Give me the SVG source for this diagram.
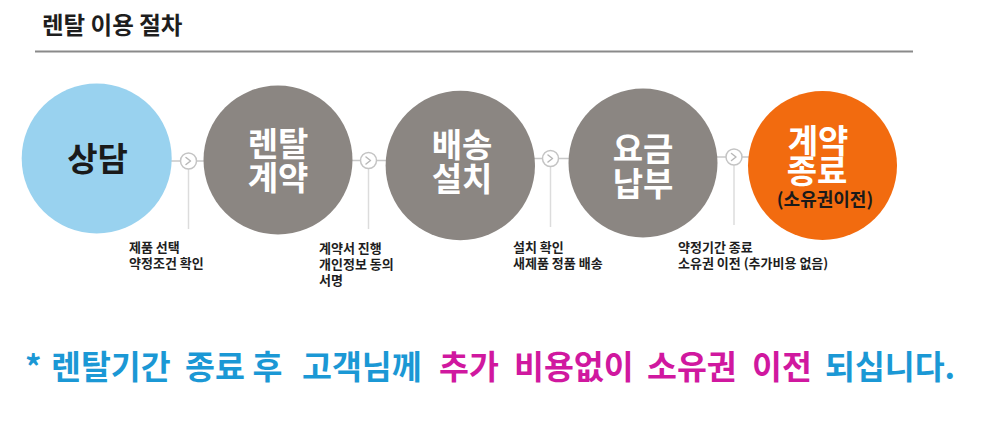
<svg xmlns="http://www.w3.org/2000/svg" width="1000" height="437" viewBox="0 0 1000 437">
  <style>
    text { font-family: 'Noto Sans CJK KR', 'Noto Sans', sans-serif; font-weight: bold; }
    .title { font-size: 23.5px; fill: #1e1e1e; }
    .big { font-size: 33px; text-anchor: middle; }
    .white { fill: #ffffff; }
    .dark { fill: #1a1a1a; }
    .note { font-size: 13px; fill: #1e1e1e; }
    .msg { font-size: 32.5px; }
    .blue { fill: #1b98d5; }
    .pink { fill: #d0189f; }
    .hline { stroke: #c8c8c8; stroke-width: 1.5; fill: none; }
    .vline { stroke: #dcdcdc; stroke-width: 1.5; fill: none; }
    .dot { stroke: #c4c4c4; stroke-width: 1.5; fill: #ffffff; }
    .chev { stroke: #b8b8b8; stroke-width: 1.5; fill: none; stroke-linecap: round; stroke-linejoin: round; }
  </style>

  <g id="header">
    <text class="title" x="42" y="33.5">렌탈 이용 절차</text>
    <line x1="35" y1="51.5" x2="913" y2="51.5" stroke="#8a8a8a" stroke-width="2"/>
  </g>

  <g id="connectors">
    <line class="hline" x1="171" y1="161" x2="204" y2="161"/>
    <line class="vline" x1="188.5" y1="169" x2="188.5" y2="229"/>
    <circle class="dot" cx="188.5" cy="161" r="8"/>
    <polyline class="chev" points="186,157.5 190.5,161 186,164.5"/>

    <line class="hline" x1="352" y1="160.5" x2="386" y2="160.5"/>
    <line class="vline" x1="368.5" y1="168.5" x2="368.5" y2="229"/>
    <circle class="dot" cx="368.5" cy="160.5" r="8"/>
    <polyline class="chev" points="366,157 370.5,160.5 366,164"/>

    <line class="hline" x1="534" y1="158.5" x2="570" y2="158.5"/>
    <line class="vline" x1="550.5" y1="166.5" x2="550.5" y2="227"/>
    <circle class="dot" cx="550.5" cy="158.5" r="8"/>
    <polyline class="chev" points="548,155 552.5,158.5 548,162"/>

    <line class="hline" x1="716" y1="157" x2="749" y2="157"/>
    <line class="vline" x1="734" y1="165" x2="734" y2="225"/>
    <circle class="dot" cx="734" cy="157" r="8"/>
    <polyline class="chev" points="731.5,153.5 736,157 731.5,160.5"/>
  </g>

  <g id="step1">
    <circle cx="96.7" cy="158.5" r="75" fill="#99d2ef"/>
    <text class="big dark" x="97.5" y="171">상담</text>
    <text class="note"><tspan x="129" y="252">제품 선택</tspan><tspan x="129" y="268">약정조건 확인</tspan></text>
  </g>

  <g id="step2">
    <circle cx="278" cy="160" r="74.5" fill="#8b8682"/>
    <text class="big white"><tspan x="278" y="156">렌탈</tspan><tspan x="278" y="189.5">계약</tspan></text>
    <text class="note"><tspan x="319" y="253">계약서 진행</tspan><tspan x="319" y="269">개인정보 동의</tspan><tspan x="319" y="285">서명</tspan></text>
  </g>

  <g id="step3">
    <circle cx="460.3" cy="165.5" r="74.7" fill="#8b8682"/>
    <text class="big white"><tspan x="462" y="156.5">배송</tspan><tspan x="462" y="190.5">설치</tspan></text>
    <text class="note"><tspan x="513" y="252">설치 확인</tspan><tspan x="513" y="268">새제품 정품 배송</tspan></text>
  </g>

  <g id="step4">
    <circle cx="643" cy="163" r="74.5" fill="#8b8682"/>
    <text class="big white"><tspan x="643" y="161">요금</tspan><tspan x="643" y="196">납부</tspan></text>
    <text class="note"><tspan x="678" y="252">약정기간 종료</tspan><tspan x="678" y="268">소유권 이전 (추가비용 없음)</tspan></text>
  </g>

  <g id="step5">
    <circle cx="822.5" cy="165.5" r="74.5" fill="#f26b0f"/>
    <text class="big"><tspan class="white" x="818" y="152.5">계약</tspan><tspan class="white" x="817" y="183">종료</tspan><tspan class="dark" x="825" y="206" font-size="18">(소유권이전)</tspan></text>
  </g>

  <g id="message">
    <text class="msg" y="378.5"><tspan class="blue" x="25">*</tspan><tspan class="blue" x="51">렌탈기간</tspan><tspan class="blue" x="185">종료</tspan><tspan class="blue" x="252.5">후</tspan><tspan class="blue" x="302">고객님께</tspan><tspan class="pink" x="439">추가</tspan><tspan class="pink" x="514">비용없이</tspan><tspan class="pink" x="647">소유권</tspan><tspan class="pink" x="752">이전</tspan><tspan class="blue" x="825">되십니다.</tspan></text>
  </g>
</svg>
